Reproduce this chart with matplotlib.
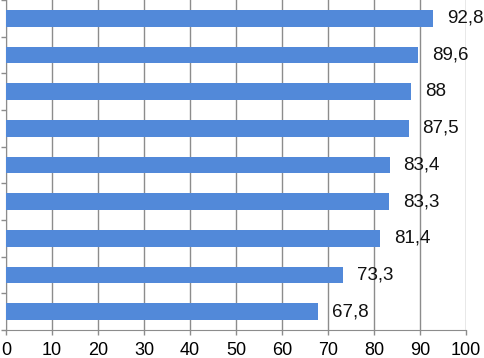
import matplotlib.pyplot as plt
import numpy as np

# значения сверху вниз
values = [92.8, 89.6, 88, 87.5, 83.4, 83.3, 81.4, 73.3, 67.8]
labels = ['92,8', '89,6', '88', '87,5', '83,4', '83,3', '81,4', '73,3', '67,8']
xticks = [0, 10, 20, 30, 40, 50, 60, 70, 80, 90, 100]

plt.rcParams['font.family'] = ['Liberation Sans', 'DejaVu Sans']

fig = plt.figure(figsize=(4.84, 3.58), dpi=100)
ax = fig.add_axes([6 / 484, 28 / 358, 460 / 484, 330 / 358])

n = len(values)
ys = np.arange(n)[::-1]
ax.barh(ys, values, height=0.45, color='#5289d9', zorder=3)

for y, v, s in zip(ys, values, labels):
    ax.annotate(s, (v, y), xytext=(10, 0), textcoords='offset points',
                va='center', ha='left', fontsize=13.5, color='#111111')

ax.set_xlim(0, 100)
ax.set_ylim(-0.5, n - 0.5)
ax.set_xticks(xticks)
ax.set_xticklabels([str(t) for t in xticks], fontsize=13)
ax.set_yticks(np.arange(n + 1) - 0.5)
ax.set_yticklabels([])
ax.grid(axis='x', color='#8c8c8c', linewidth=1, zorder=0)

for s in ['top', 'right']:
    ax.spines[s].set_visible(False)
for s in ['left', 'bottom']:
    ax.spines[s].set_color('#8c8c8c')
ax.tick_params(axis='both', color='#8c8c8c', length=3.5, width=1)
ax.tick_params(axis='x', pad=5)

fig.savefig('out.png', dpi=100)
